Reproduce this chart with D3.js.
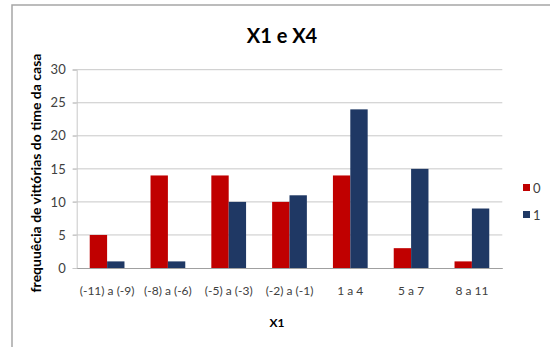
<!DOCTYPE html>
<html>
<head>
<meta charset="utf-8">
<script src="https://cdn.jsdelivr.net/npm/d3@7"></script>
<style>
  html, body { margin: 0; padding: 0; background: #fff; }
  svg { display: block; font-family: Lato, "Open Sans", sans-serif; }
</style>
</head>
<body>
<svg id="chart" width="550" height="347"></svg>
<script>
// X1 interval categories and home-win counts for each X4 group
const categories = ["(-11) a (-9)", "(-8) a (-6)", "(-5) a (-3)", "(-2) a (-1)", "1 a 4", "5 a 7", "8 a 11"];
const seriesNames = ["0", "1"];
const series0 = [5, 14, 14, 10, 14, 3, 1];
const series1 = [1, 1, 10, 11, 24, 15, 9];
const yTicks = [0, 5, 10, 15, 20, 25, 30];
const colors = ["#C00000", "#1F3864"];

const svg = d3.select("#chart");
const margin = { left: 76.7, right: 502.3, top: 69.7, bottom: 268 };

// outer chart frame
svg.append("rect")
  .attr("x", 12).attr("y", 5).attr("width", 560).attr("height", 360)
  .attr("fill", "none").attr("stroke", "#a6a6a6").attr("stroke-width", 1.5);

const x = d3.scaleBand().domain(categories).range([margin.left, margin.right]).paddingInner(0).paddingOuter(0);
const y = d3.scaleLinear().domain([0, 30]).range([margin.bottom, margin.top]);
const barW = x.bandwidth() / 3.5;

// gridlines
svg.append("g")
  .selectAll("line").data(yTicks.filter(d => d > 0)).join("line")
  .attr("x1", margin.left - 4).attr("x2", margin.right)
  .attr("y1", d => y(d)).attr("y2", d => y(d))
  .attr("stroke", "#c8c8c8").attr("stroke-width", 1);

// y axis
const yAxis = svg.append("g")
  .attr("transform", `translate(${margin.left},0)`)
  .call(d3.axisLeft(y).tickValues(yTicks).tickSize(4).tickPadding(7));
yAxis.select(".domain").attr("stroke", "#c8c8c8");
yAxis.selectAll(".tick line").attr("stroke", "#c8c8c8");
yAxis.selectAll("text").attr("font-size", 13).attr("fill", "#404040").attr("font-family", "Lato");

// bars
const data = categories.map((c, i) => ({ c, vals: [series0[i], series1[i]] }));
const groups = svg.append("g").selectAll("g").data(data).join("g")
  .attr("transform", d => `translate(${x(d.c) + x.bandwidth() / 2 - barW},0)`);
groups.selectAll("rect").data(d => d.vals).join("rect")
  .attr("x", (d, j) => j * barW)
  .attr("y", d => y(d))
  .attr("width", barW)
  .attr("height", d => y(0) - y(d))
  .attr("fill", (d, j) => colors[j]);

// x axis
const xAxis = svg.append("g")
  .attr("transform", `translate(0,${margin.bottom})`)
  .call(d3.axisBottom(x).tickSize(0).tickPadding(18));
xAxis.select(".domain").attr("stroke", "#a0a0a0").attr("stroke-width", 1.2);
xAxis.selectAll("text").attr("font-size", 12).attr("fill", "#404040").attr("font-family", "Lato");

// titles
svg.append("text")
  .attr("x", 282).attr("y", 43).attr("text-anchor", "middle")
  .attr("font-size", 20).attr("font-weight", "bold").attr("fill", "#000")
  .text("X1 e X4");

svg.append("text")
  .attr("x", 277).attr("y", 327).attr("text-anchor", "middle")
  .attr("font-size", 12).attr("font-weight", "bold").attr("fill", "#000")
  .text("X1");

svg.append("text")
  .attr("transform", "translate(41,173) rotate(-90)")
  .attr("text-anchor", "middle")
  .attr("font-size", 14).attr("font-weight", "bold").attr("fill", "#000")
  .text("frequuêcia de vittórias do time da casa");

// legend
const legend = svg.append("g").selectAll("g").data(seriesNames).join("g")
  .attr("transform", (d, i) => `translate(523,${184 + i * 27})`);
legend.append("rect").attr("width", 7).attr("height", 7).attr("fill", (d, i) => colors[i]);
legend.append("text").attr("x", 10).attr("y", 4).attr("dy", "0.35em")
  .attr("font-size", 13).attr("fill", "#404040").text(d => d);
</script>
</body>
</html>
